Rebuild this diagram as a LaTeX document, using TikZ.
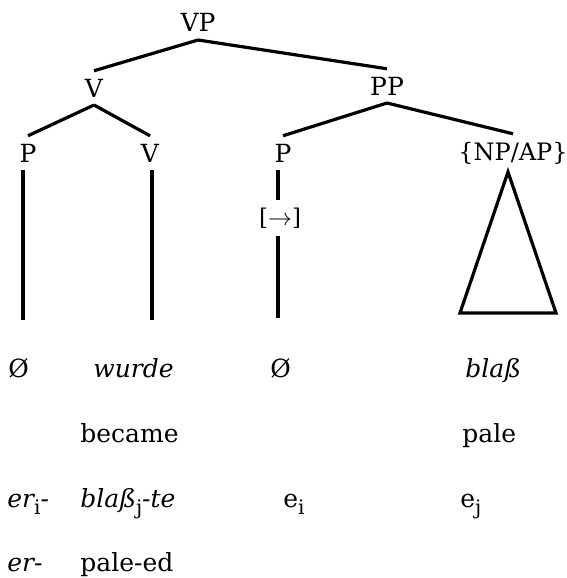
\documentclass[tikz,border=0pt]{standalone}
\usepackage{fontspec}
\setmainfont{DejaVu Serif}
\newcommand{\mysub}[1]{\raisebox{-0.55ex}{\fontsize{10}{12}\selectfont\upshape #1}}
\begin{document}
\begin{tikzpicture}[x=0.5pt,y=-0.5pt,
  lbl/.style={inner sep=0pt,outer sep=4pt,anchor=base,font=\fontsize{12.5}{15}\selectfont},
  wd/.style={inner sep=0pt,anchor=base west,font=\fontsize{12.5}{15}\selectfont},
  edge/.style={line width=1.6pt}]
\useasboundingbox (0,0) rectangle (567,578);
% tree labels
\node[lbl] (VP) at (198,32) {VP};
\node[lbl] (V) at (94,97) {V};
\node[lbl] (PP) at (387,95) {PP};
\node[lbl] (P1) at (28,162) {P};
\node[lbl] (V2) at (150,162) {V};
\node[lbl] (P3) at (283,162) {P};
\node[lbl,font=\fontsize{12}{15}\selectfont] (NPAP) at (513,160) {\{NP/AP\}};
\node[lbl,font=\fontsize{11.5}{13}\selectfont] (arr) at (280,225) {[$\rightarrow$]};
% words
\node[wd] (o1) at (8,377) {Ø};
\node[wd] (wurde) at (93,377) {\textit{wurde}};
\node[wd] (o3) at (270,377) {Ø};
\node[wd] (blass) at (465,377) {\textit{blaß}};
\node[wd] (became) at (80,442) {became};
\node[wd] (pale) at (462,442) {pale};
\node[wd] (eri) at (7,507) {\textit{er\mysub{i}-}};
\node[wd] (blassj) at (80,507) {\textit{blaß\mysub{j}-te}};
\node[wd] (ei) at (283,507) {e\mysub{i}};
\node[wd] (ej) at (460,507) {e\mysub{j}};
\node[wd] (er) at (7,571) {\textit{er-}};
\node[wd] (paleed) at (80,571) {pale-ed};
% free ends
\coordinate (b1) at (23,320);
\coordinate (b2) at (152,320);
\coordinate (b3) at (278,318);
\coordinate (tl) at (460,313);
\coordinate (tr) at (556,313);
% branches
\draw[edge] (VP.south) -- (V.north);
\draw[edge] (VP.south) -- (PP.north);
\draw[edge] (V.south) -- (P1.north);
\draw[edge] (V.south) -- (V2.north);
\draw[edge] (PP.south) -- (P3.north);
\draw[edge] (PP.south) -- (NPAP.north);
\draw[edge] (P1.south -| b1) -- (b1);
\draw[edge] (V2.south -| b2) -- (b2);
\draw[edge] (P3.south -| b3) -- (arr.north -| b3);
\draw[edge] (arr.south -| b3) -- (b3);
\draw[edge,line join=miter] ([xshift=-2.5pt]NPAP.south) -- (tl) -- (tr) -- cycle;
\end{tikzpicture}
\end{document}
